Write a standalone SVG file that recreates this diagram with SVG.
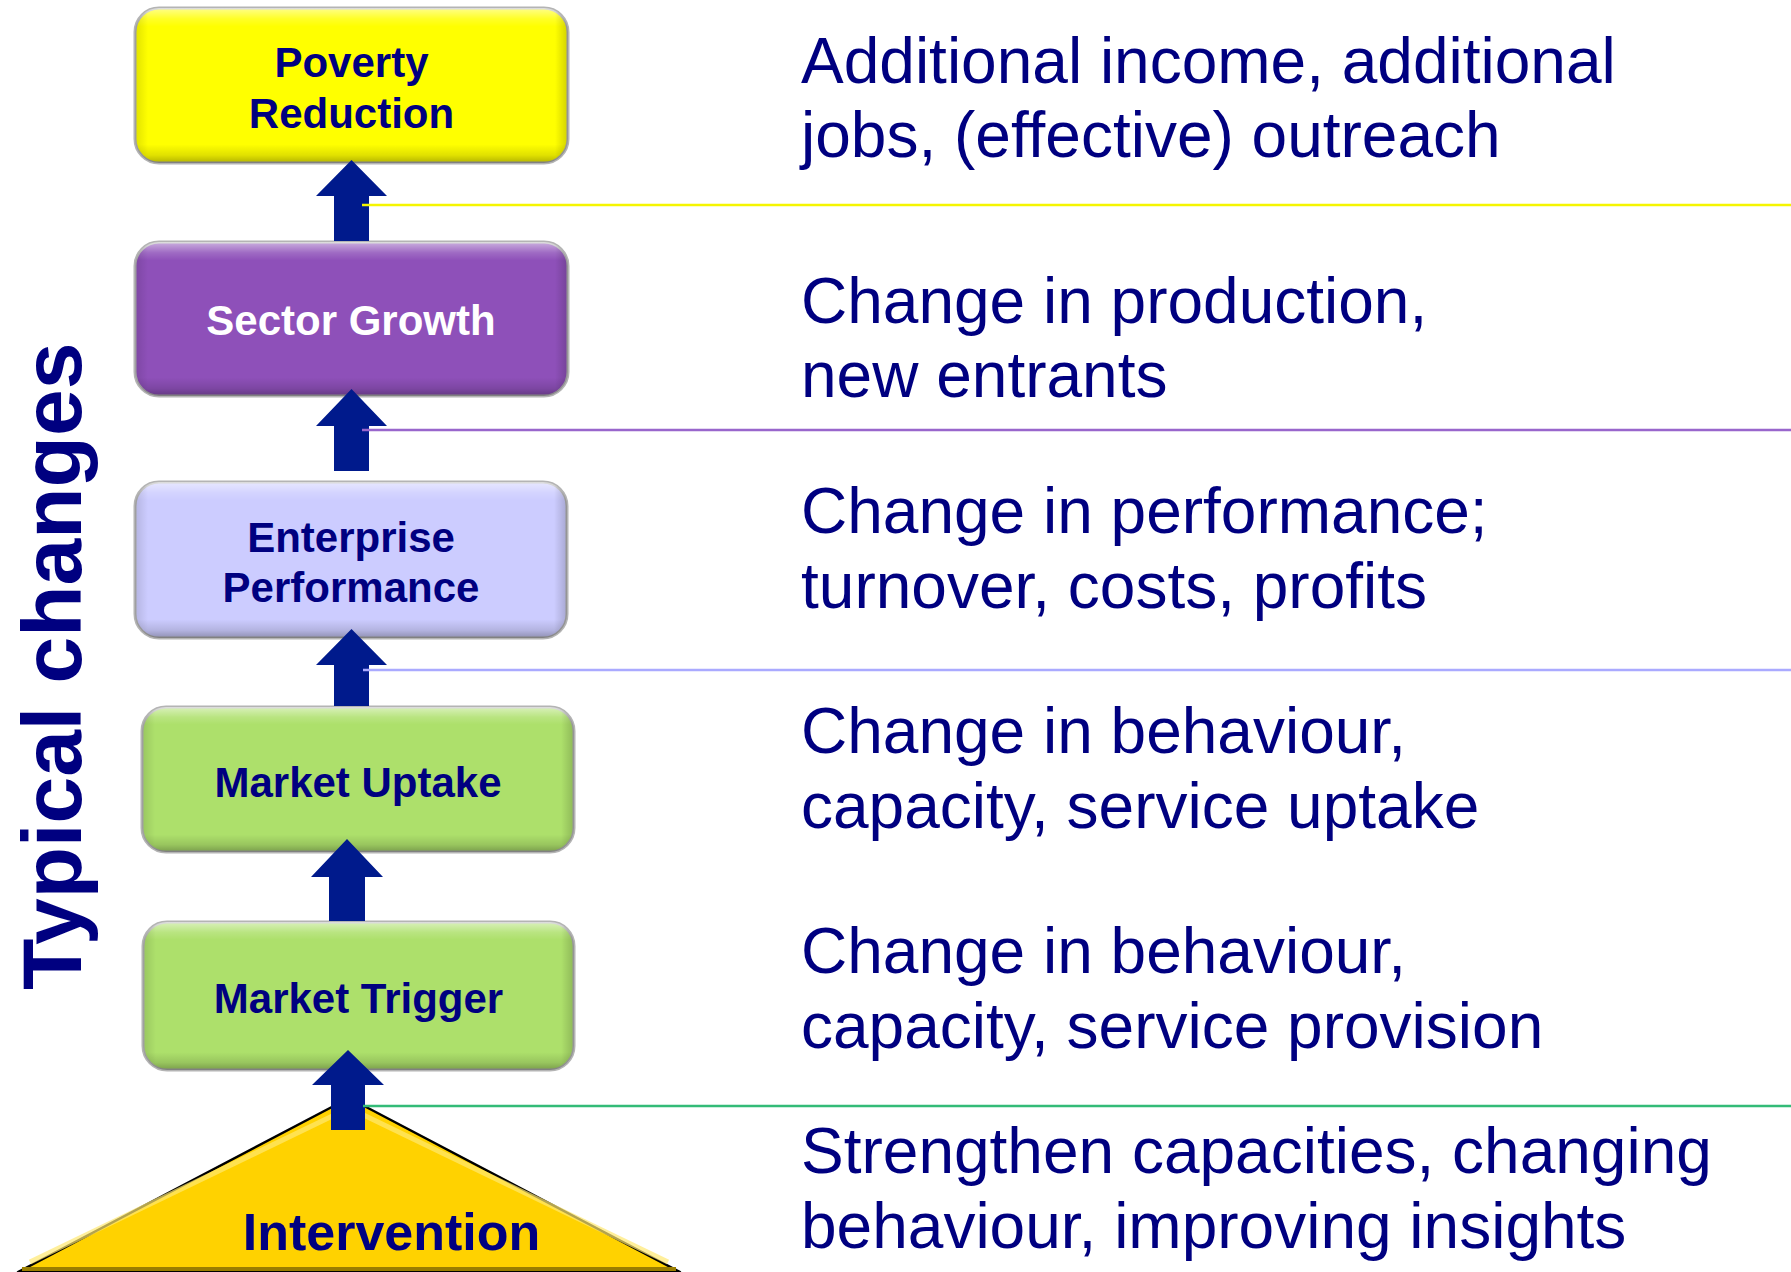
<svg xmlns="http://www.w3.org/2000/svg" width="1791" height="1272" viewBox="0 0 1791 1272">
<style>
.box{stroke:#b4b4b4;stroke-width:3}
.lbl{font-family:"Liberation Sans",Arial,sans-serif;font-weight:bold;font-size:42px;fill:#000080;text-anchor:middle}
.desc{font-family:"Liberation Sans",Arial,sans-serif;font-size:64px;fill:#000080}
.arrow{fill:#001a8c}
.sep{stroke-width:2.5;fill:none}
</style>
<defs>
<linearGradient id="bevV" x1="0" y1="0" x2="0" y2="1">
<stop offset="0" stop-color="#ffffff" stop-opacity="0.55"/>
<stop offset="0.07" stop-color="#ffffff" stop-opacity="0.15"/>
<stop offset="0.12" stop-color="#ffffff" stop-opacity="0"/>
<stop offset="0.88" stop-color="#000000" stop-opacity="0"/>
<stop offset="0.95" stop-color="#000000" stop-opacity="0.12"/>
<stop offset="1" stop-color="#000000" stop-opacity="0.3"/>
</linearGradient>
<linearGradient id="bevH" x1="0" y1="0" x2="1" y2="0">
<stop offset="0" stop-color="#000000" stop-opacity="0.12"/>
<stop offset="0.03" stop-color="#000000" stop-opacity="0"/>
<stop offset="0.97" stop-color="#000000" stop-opacity="0"/>
<stop offset="1" stop-color="#000000" stop-opacity="0.18"/>
</linearGradient>
</defs>
<rect width="1791" height="1272" fill="#ffffff"/>

<g id="title">
<text transform="translate(81,990) rotate(-90)" style="font-family:'Liberation Sans',Arial,sans-serif;font-weight:bold;font-size:84px;fill:#000080">Typical changes</text>
</g>

<g id="poverty-reduction">
<rect class="box" x="135" y="8" width="433" height="155" rx="24" fill="#ffff00"/>
<rect x="135" y="8" width="433" height="155" rx="24" fill="url(#bevV)"/>
<rect x="135" y="8" width="433" height="155" rx="24" fill="url(#bevH)"/>
<text class="lbl" x="351.5" y="77">Poverty</text>
<text class="lbl" x="351.5" y="128">Reduction</text>
</g>

<g id="sector-growth">
<rect class="box" x="135" y="242" width="433" height="154" rx="24" fill="#8e50b9"/>
<rect x="135" y="242" width="433" height="154" rx="24" fill="url(#bevV)"/>
<rect x="135" y="242" width="433" height="154" rx="24" fill="url(#bevH)"/>
<text class="lbl" x="351" y="335" style="fill:#ffffff">Sector Growth</text>
</g>

<g id="enterprise-performance">
<rect class="box" x="135" y="482" width="432" height="156" rx="24" fill="#ccccff"/>
<rect x="135" y="482" width="432" height="156" rx="24" fill="url(#bevV)"/>
<rect x="135" y="482" width="432" height="156" rx="24" fill="url(#bevH)"/>
<text class="lbl" x="351" y="552">Enterprise</text>
<text class="lbl" x="351" y="602">Performance</text>
</g>

<g id="market-uptake">
<rect class="box" x="142" y="707" width="432" height="145" rx="24" fill="#ade06b"/>
<rect x="142" y="707" width="432" height="145" rx="24" fill="url(#bevV)"/>
<rect x="142" y="707" width="432" height="145" rx="24" fill="url(#bevH)"/>
<text class="lbl" x="358" y="797">Market Uptake</text>
</g>

<g id="market-trigger">
<rect class="box" x="143" y="922" width="431" height="148" rx="24" fill="#ade06b"/>
<rect x="143" y="922" width="431" height="148" rx="24" fill="url(#bevV)"/>
<rect x="143" y="922" width="431" height="148" rx="24" fill="url(#bevH)"/>
<text class="lbl" x="358.5" y="1013">Market Trigger</text>
</g>

<g id="intervention">
<polygon points="349,1098 18,1272 680,1272" fill="#ffd200" stroke="#000000" stroke-width="2.5" stroke-linejoin="round"/>
<polyline points="30,1262 349,1108 668,1262" fill="none" stroke="#ffe870" stroke-width="5" stroke-opacity="0.7"/>
<line x1="22" y1="1269" x2="676" y2="1269" stroke="#9a7e00" stroke-width="4"/>
<text class="lbl" x="391.5" y="1250" style="font-size:52px">Intervention</text>
</g>

<g id="connectors">
<polygon class="arrow" points="351.5,160 387,196 369,196 369,241 334,241 334,196 316,196"/>
<polygon class="arrow" points="351.5,389 387,426 369,426 369,471 334,471 334,426 316,426"/>
<polygon class="arrow" points="351.5,629 387,665 369,665 369,706 334,706 334,665 316,665"/>
<polygon class="arrow" points="347,839 383,877 365,877 365,921 329,921 329,877 311,877"/>
<polygon class="arrow" points="348,1050 384,1085 365,1085 365,1130 331,1130 331,1085 312,1085"/>
</g>

<g id="separators">
<line class="sep" x1="362" y1="205" x2="1791" y2="205" stroke="#f5f500"/>
<line class="sep" x1="362" y1="430" x2="1791" y2="430" stroke="#9966cc"/>
<line class="sep" x1="363" y1="670" x2="1791" y2="670" stroke="#aaaaff"/>
<line class="sep" x1="363" y1="1106" x2="1791" y2="1106" stroke="#33bb77"/>
</g>

<g id="descriptions">
<text class="desc" x="801" y="83">Additional income, additional</text>
<text class="desc" x="801" y="157">jobs, (effective) outreach</text>
<text class="desc" x="801" y="323">Change in production,</text>
<text class="desc" x="801" y="397">new entrants</text>
<text class="desc" x="801" y="533">Change in performance;</text>
<text class="desc" x="801" y="608">turnover, costs, profits</text>
<text class="desc" x="801" y="753">Change in behaviour,</text>
<text class="desc" x="801" y="828">capacity, service uptake</text>
<text class="desc" x="801" y="973">Change in behaviour,</text>
<text class="desc" x="801" y="1048">capacity, service provision</text>
<text class="desc" x="801" y="1173">Strengthen capacities, changing</text>
<text class="desc" x="801" y="1248">behaviour, improving insights</text>
</g>
</svg>
